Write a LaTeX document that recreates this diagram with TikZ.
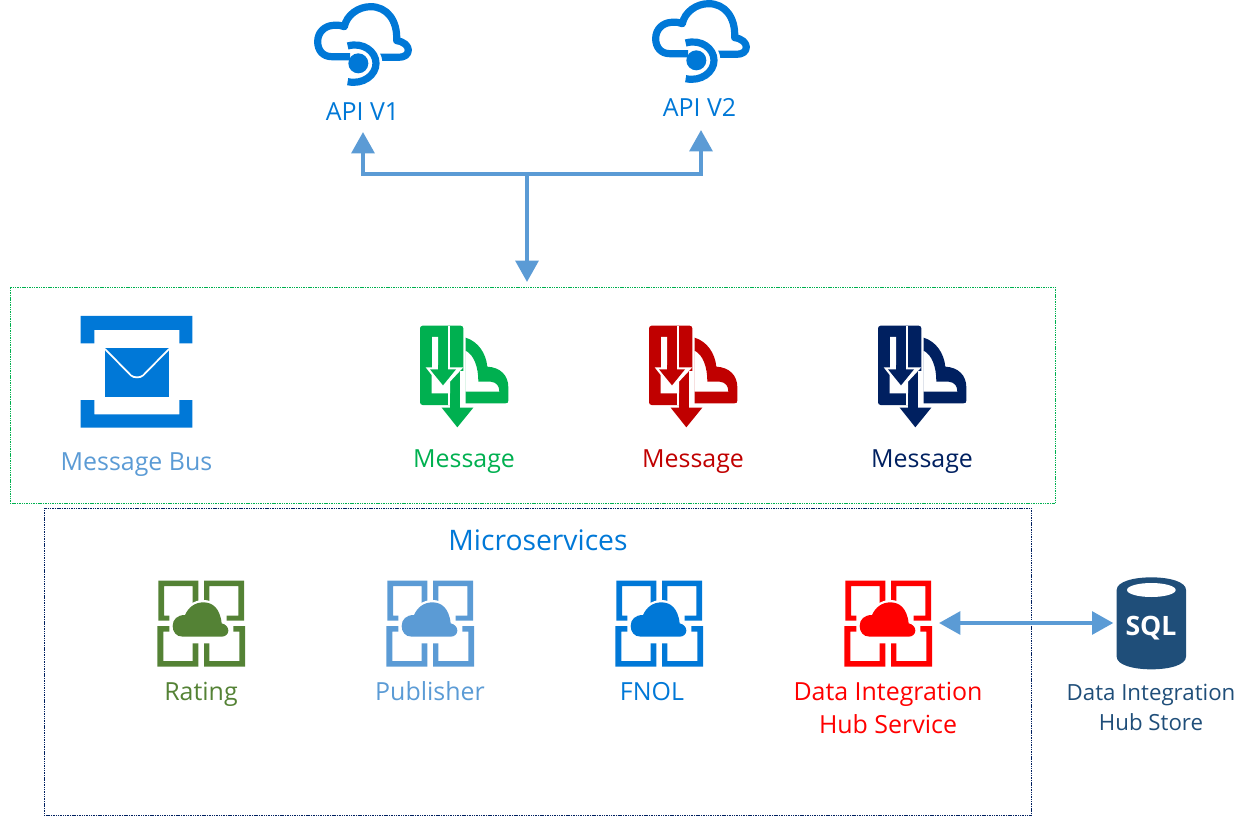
\documentclass[tikz,border=0pt]{standalone}
\usepackage{fontspec}
\setmainfont{Open Sans}
\usetikzlibrary{arrows.meta}
\definecolor{azure}{HTML}{0078D7}
\definecolor{lblue}{HTML}{5B9BD5}
\definecolor{mgreen}{HTML}{00B050}
\definecolor{mred}{HTML}{C00000}
\definecolor{mnavy}{HTML}{002060}
\definecolor{rgreen}{HTML}{548235}
\definecolor{sqlblue}{HTML}{1F4E79}
\tikzset{
  lbl/.style={inner sep=0pt,anchor=base,font=\fontsize{18.7}{25}\selectfont},
  twolbl/.style={inner sep=0pt,align=center,font=\fontsize{18.7}{25}\selectfont},
  smalllbl/.style={inner sep=0pt,align=center,font=\fontsize{16.7}{22.5}\selectfont},
  iconbox/.style={inner sep=0pt,outer sep=0pt,minimum width=#1*.75pt,minimum height=#1*.75pt},
  flow/.style={draw=lblue,line width=3pt,line join=miter},
  tip/.style={-{Triangle[width=17pt,length=16pt]}},
  biflow/.style={{Triangle[width=17pt,length=16pt]}-{Triangle[width=17pt,length=16pt]}},
  groupbox/.style={draw=#1,line width=.7pt,dash pattern=on .8pt off .5pt,inner sep=0pt,outer sep=0pt}
}
\newcommand\apiicon[2]{%
\begin{scope}[shift={(#1,#2)},x=.25pt,y=-.25pt]
\draw[azure,line width=5.4pt,line cap=butt,line join=round]
 (150,170) -- (95,170) .. controls (68,170) and (53,150) .. (53,125)
 .. controls (53,98) and (72,78) .. (100,76) .. controls (115,75) and (125,76) .. (133,80)
 .. controls (140,45) and (175,20) .. (212,20) .. controls (260,20) and (293,60) .. (290,122)
 .. controls (312,125) and (325,138) .. (325,150) .. controls (325,165) and (312,172) .. (295,172) -- (235,172);
\draw[white,line width=9.5pt] (143,138) .. controls (190,125) and (228,155) .. (228,190) .. controls (228,225) and (190,255) .. (143,245);
\draw[azure,line width=5.4pt] (143,138) .. controls (190,125) and (228,155) .. (228,190) .. controls (228,225) and (190,255) .. (143,245);
\fill[azure] (175,190) circle[radius=30];
\end{scope}}
\newcommand\msgicon[3]{%
\begin{scope}[shift={(#1,#2)},x=.25pt,y=-.25pt]
\fill[#3,rounded corners=2pt] (60,47) rectangle (190,285);
\fill[white] (96,81) -- (114,81) -- (114,172) -- (150,172) -- (190,172) -- (150,215) -- (150,250) -- (95,250) -- (95,195) -- (77,172) -- (96,172) -- cycle;
\fill[white] (145,47) rectangle (150,285);
\fill[white] (180,183) rectangle (197,290);
\fill[#3] (114,165) rectangle (145,180);
\fill[#3] (90,178) -- (168,178) -- (129,226) -- cycle;
\fill[#3] (150,285) rectangle (180,295);
\fill[#3] (125,293) -- (220,293) -- (172,352) -- cycle;
\fill[#3,even odd rule] (197,83) .. controls (235,95) and (258,130) .. (262,170)
 .. controls (300,172) and (325,195) .. (325,232) -- (325,272) .. controls (325,278) and (322,280) .. (316,280) -- (197,280) -- cycle
 (197,122) .. controls (222,135) and (235,170) .. (235,215) -- (272,215) .. controls (290,217) and (298,228) .. (298,245) -- (197,245) -- cycle;
\end{scope}}
\newcommand\svcicon[3]{%
\begin{scope}[shift={(#1,#2)},x=.25pt,y=-.25pt]
\fill[#3] (55,32) -- (175,32) -- (175,110) -- (158,110) -- (158,48) -- (72,48) -- (72,137) -- (88,137) -- (88,152) -- (55,152) -- cycle;
\fill[#3] (192,32) -- (312,32) -- (312,152) -- (260,152) -- (260,137) -- (295,137) -- (295,48) -- (208,48) -- (208,110) -- (192,110) -- cycle;
\fill[#3] (52,168) -- (88,168) -- (88,185) -- (70,185) -- (70,273) -- (158,273) -- (158,220) -- (175,220) -- (175,290) -- (52,290) -- cycle;
\fill[#3] (192,220) -- (208,220) -- (208,273) -- (298,273) -- (298,185) -- (280,185) -- (280,168) -- (315,168) -- (315,290) -- (192,290) -- cycle;
\def\svccloud{(128,200) .. controls (108,200) and (98,185) .. (98,168) .. controls (98,148) and (112,135) .. (135,135)
 .. controls (145,112) and (165,97) .. (190,97) .. controls (218,97) and (240,115) .. (245,160)
 .. controls (258,163) and (265,172) .. (265,182) .. controls (265,192) and (256,200) .. (245,200) -- cycle}
\draw[white,line width=3.5pt,line join=round] \svccloud;
\fill[#3] \svccloud;
\end{scope}}
\begin{document}
\begin{tikzpicture}[x=.75pt,y=-.75pt]
\useasboundingbox (0,0) rectangle (1241,816);
% groups
\node[groupbox=mgreen,minimum width=1045*.75pt,minimum height=216*.75pt,anchor=north west] (msgbox) at (10,287) {};
\node[groupbox=mnavy,minimum width=987*.75pt,minimum height=307*.75pt,anchor=north west] (svcbox) at (44,508) {};
% API icons
\apiicon{300}{0}
\apiicon{638}{-3}
\node[lbl,text=azure] (api1) at (362.5,121) {API V1};
\node[lbl,text=azure] (api2) at (699.5,117) {API V2};
% message bus icon
\fill[azure] (80.7,316) -- (192.3,316) -- (192.3,343.3) -- (179.3,343.3) -- (179.3,330) -- (94.3,330) -- (94.3,343.3) -- (80.7,343.3) -- cycle;
\fill[azure] (80.7,400) -- (94.3,400) -- (94.3,414.3) -- (179.3,414.3) -- (179.3,400) -- (192.3,400) -- (192.3,427.7) -- (80.7,427.7) -- cycle;
\fill[azure] (105,348.3) rectangle (169,396.7);
\draw[white,line width=1.3pt,line cap=round] (105,349) -- (131,375.5) .. controls (134,378) and (140,378) .. (143,375.5) -- (169,349);
\node[lbl,text=lblue] (busl) at (136.5,470) {Message Bus};
% message icons
\msgicon{400}{310}{mgreen}
\msgicon{629}{310}{mred}
\msgicon{858}{310}{mnavy}
\node[lbl,text=mgreen] (m1) at (464,467) {Message};
\node[lbl,text=mred] (m2) at (693,467) {Message};
\node[lbl,text=mnavy] (m3) at (922,467) {Message};
% services
\node[lbl,text=azure,font=\fontsize{21.2}{25}\selectfont] (micro) at (538,550) {Microservices};
\svcicon{140}{570}{rgreen}
\svcicon{369}{570}{lblue}
\svcicon{598}{570}{azure}
\svcicon{827}{570}{red}
\node[lbl,text=rgreen] (s1) at (201,700) {Rating};
\node[lbl,text=lblue] (s2) at (430,700) {Publisher};
\node[lbl,text=azure] (s3) at (652,700) {FNOL};
\node[twolbl,text=red] (s4) at (888,708) {Data Integration\\Hub Service};
\node[iconbox=88] (dih) at (888,623) {};
% SQL
\begin{scope}[shift={(1080,570)},x=.25pt,y=-.25pt]
\fill[sqlblue] (110,60) .. controls (110,35) and (160,22) .. (214,22) .. controls (268,22) and (318,35) .. (318,60) -- (318,260)
 .. controls (318,285) and (268,298) .. (214,298) .. controls (160,298) and (110,285) .. (110,260) -- cycle;
\fill[white] (214,60) ellipse[x radius=73,y radius=21];
\end{scope}
\node[iconbox=70,font=\fontsize{20}{24}\selectfont\bfseries,text=white] (sql) at (1151,628) {SQL};
\node[smalllbl,text=sqlblue] (store) at (1151,707) {Data Integration\\Hub Store};
% connectors
\coordinate (j) at (527,174);
\coordinate (a1) at (363,132);
\coordinate (a2) at (701,130);
\draw[flow,tip] (j) -| (a1);
\draw[flow,tip] (j) -| (a2);
\draw[flow,tip,shorten >=3.75pt] (j) -- (j |- msgbox.north);
\draw[flow,biflow,shorten <=5.25pt,shorten >=2pt] (dih.east) -- (sql.west |- dih.east);
\end{tikzpicture}
\end{document}
